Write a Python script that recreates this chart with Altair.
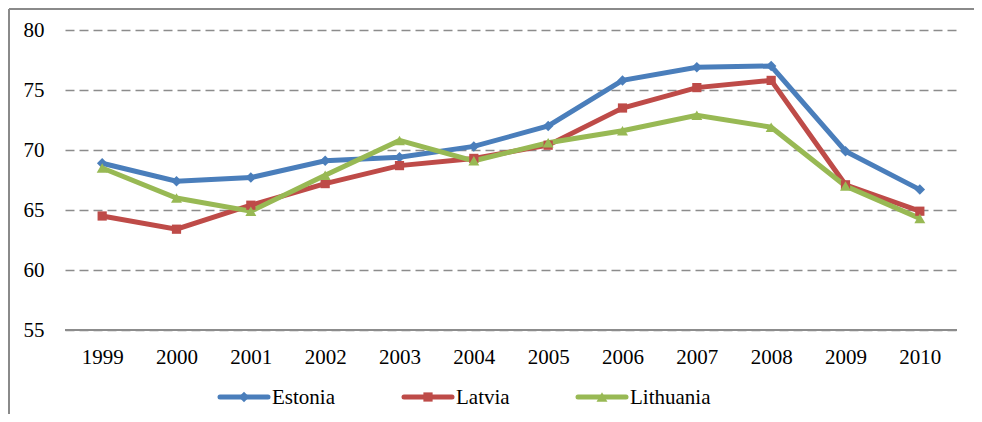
import altair as alt
import pandas as pd

years = ["1999", "2000", "2001", "2002", "2003", "2004", "2005", "2006", "2007", "2008", "2009", "2010"]
countries = ["Estonia", "Latvia", "Lithuania"]
estonia = [68.9, 67.4, 67.7, 69.1, 69.4, 70.3, 72.0, 75.8, 76.9, 77.0, 69.9, 66.7]
latvia = [64.5, 63.4, 65.4, 67.2, 68.7, 69.3, 70.4, 73.5, 75.2, 75.8, 67.1, 64.9]
lithuania = [68.5, 66.0, 64.9, 67.9, 70.8, 69.1, 70.6, 71.6, 72.9, 71.9, 67.0, 64.3]
y_ticks = [55, 60, 65, 70, 75, 80]

colors = ["#4a7ebb", "#be4b48", "#98b954"]
marker_shapes = ["diamond", "square", "triangle-up"]
marker_sizes = [110, 85, 120]
# legend item left edges (plot-relative pixels)
legend_x0 = [155, 339, 513]

series = {"Estonia": estonia, "Latvia": latvia, "Lithuania": lithuania}
rows = []
for c in countries:
    for yr, v in zip(years, series[c]):
        rows.append({"year": yr, "value": v, "country": c})
df = pd.DataFrame(rows)

FONT = "Liberation Serif"

x_enc = alt.X("year:N", sort=years, title=None,
              scale=alt.Scale(paddingInner=0, paddingOuter=0),
              axis=alt.Axis(labelAngle=0, labelPadding=16, ticks=False,
                            domain=False, grid=False))
y_enc = alt.Y("value:Q", title=None,
              scale=alt.Scale(domain=[55, 80], nice=False, zero=False),
              axis=alt.Axis(values=y_ticks, labelPadding=21, ticks=False,
                            domain=False, grid=True, gridColor="#8c8c8c",
                            gridWidth=1.5, gridDash=[9, 5]))
color_scale = alt.Scale(domain=countries, range=colors)
color_enc = alt.Color("country:N", scale=color_scale, legend=None)

base = alt.Chart(df)

lines = base.mark_line(strokeWidth=5).encode(x=x_enc, y=y_enc, color=color_enc)

layers = []
for c, shp, sz in zip(countries, marker_shapes, marker_sizes):
    layers.append(
        base.transform_filter(alt.datum.country == c).mark_point(
            filled=True, opacity=1, size=sz, shape=shp
        ).encode(x=x_enc, y=y_enc, color=color_enc)
    )

baseline = alt.Chart(pd.DataFrame({"value": [55]})).mark_rule(
    color="#8c8c8c", strokeWidth=2
).encode(y=y_enc)

# manual legend
LEG_Y = 367
legend_layers = []
for c, shp, sz, x0 in zip(countries, marker_shapes, marker_sizes, legend_x0):
    ldf = pd.DataFrame({"country": [c]})
    lc = alt.Chart(ldf)
    legend_layers.append(
        lc.mark_rule(strokeWidth=5, strokeCap="round").encode(
            x=alt.value(x0), x2=alt.value(x0 + 48), y=alt.value(LEG_Y), color=color_enc)
    )
    legend_layers.append(
        lc.mark_point(filled=True, opacity=1, size=sz, shape=shp).encode(
            x=alt.value(x0 + 24), y=alt.value(LEG_Y), color=color_enc)
    )
    legend_layers.append(
        lc.mark_text(align="left", baseline="middle", font=FONT, fontSize=21,
                     color="black").encode(
            x=alt.value(x0 + 52), y=alt.value(LEG_Y + 1), text="country:N")
    )

border_left = alt.Chart(pd.DataFrame({"a": [0]})).mark_rule(
    color="#8a8a8a", strokeWidth=2
).encode(x=alt.value(-56), y=alt.value(-21), y2=alt.value(400))
border_top = alt.Chart(pd.DataFrame({"a": [0]})).mark_rule(
    color="#8a8a8a", strokeWidth=2
).encode(x=alt.value(-56), x2=alt.value(920), y=alt.value(-21))

chart = alt.layer(
    border_left, border_top, lines, *layers, baseline, *legend_layers
).properties(
    width=892, height=300,
    autosize=alt.AutoSizeParams(type="none"),
    padding={"left": 57, "top": 22, "right": 17, "bottom": 84},
).configure(
    background="white", font=FONT
).configure_view(
    stroke=None
).configure_axis(
    labelFont=FONT, labelFontSize=21, labelColor="black"
)

chart.save("out.html", embed_options={"renderer": "svg", "actions": False})
